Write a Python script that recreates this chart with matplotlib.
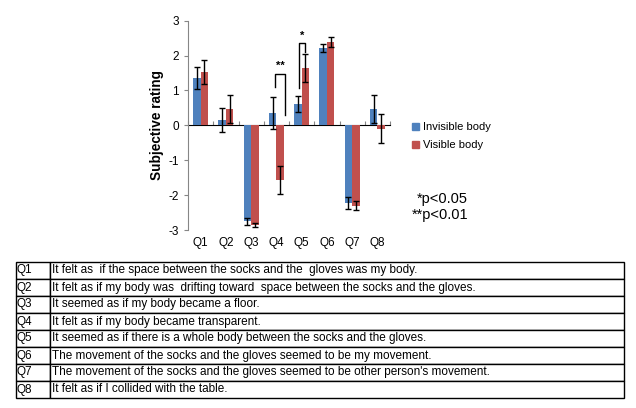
import numpy as np
import matplotlib.pyplot as plt
from matplotlib.patches import Patch

plt.rcParams['font.family'] = ['Liberation Sans', 'DejaVu Sans']
plt.rcParams['axes.unicode_minus'] = False

# data
questions = ['Q1', 'Q2', 'Q3', 'Q4', 'Q5', 'Q6', 'Q7', 'Q8']
invisible = [1.35, 0.15, -2.75, 0.35, 0.60, 2.22, -2.22, 0.48]
invisible_err = [0.32, 0.35, 0.10, 0.45, 0.23, 0.12, 0.18, 0.40]
visible = [1.53, 0.48, -2.85, -1.57, 1.65, 2.40, -2.31, -0.10]
visible_err = [0.35, 0.40, 0.05, 0.40, 0.40, 0.14, 0.13, 0.42]

# significance brackets: (question index, left x offset, right x offset, top, left bottom, right bottom, label)
brackets = [(3, -0.07, 0.36, 1.47, 1.10, 0.30, '**'),
            (4, -0.12, 0.14, 2.35, 1.06, 2.11, '*')]

statements = [
    "It felt as  if the space between the socks and the  gloves was my body.",
    "It felt as if my body was  drifting toward  space between the socks and the gloves.",
    "It seemed as if my body became a floor.",
    "It felt as if my body became transparent.",
    "It seemed as if there is a whole body between the socks and the gloves.",
    "The movement of the socks and the gloves seemed to be my movement.",
    "The movement of the socks and the gloves seemed to be other person's movement.",
    "It felt as if I collided with the table.",
]

blue = '#4F81BD'
red = '#C0504D'
grey = '#868686'

fig = plt.figure(figsize=(6.36, 4.08), dpi=100)
ax = fig.add_axes([188 / 636, 1 - 230 / 408, 202 / 636, 209.3 / 408])

x = np.arange(len(questions))
w = 0.3
ax.bar(x - w / 2, invisible, w, color=blue, yerr=invisible_err,
       error_kw=dict(ecolor='black', elinewidth=1, capsize=2.5, capthick=1))
ax.bar(x + w / 2, visible, w, color=red, yerr=visible_err,
       error_kw=dict(ecolor='black', elinewidth=1, capsize=2.5, capthick=1))

for qi, lo, ro, top, lb, rb, lab in brackets:
    ax.plot([qi + lo, qi + lo, qi + ro, qi + ro], [lb, top, top, rb],
            color='black', lw=1)
    ax.text(qi + (lo + ro) / 2, top + 0.08, lab, ha='center', va='bottom',
            fontsize=8, fontweight='bold')

ax.set_xlim(-0.5, len(questions) - 0.5)
ax.set_ylim(-3, 3)
ax.set_yticks(range(-3, 4))
ax.tick_params(axis='y', labelsize=8.5, color=grey, length=3, width=0.8)
ax.set_xticks(x)
ax.set_xticklabels(questions, fontsize=8.5)
ax.tick_params(axis='x', length=0, pad=5)
for s in ['top', 'right', 'bottom']:
    ax.spines[s].set_visible(False)
ax.spines['left'].set_color(grey)
ax.spines['left'].set_linewidth(0.8)
ax.set_ylabel('Subjective rating', fontsize=9.8, fontweight='bold', labelpad=3)

# zero axis with category-boundary ticks
zero = ax.secondary_xaxis(0.5)
zero.set_xticks(np.arange(len(questions) + 1) - 0.5)
zero.set_xticklabels([])
zero.tick_params(length=3, color=grey, width=0.8)
zero.spines['bottom'].set_color(grey)
zero.spines['bottom'].set_linewidth(0.8)

fig.legend(handles=[Patch(color=blue, label='Invisible body'),
                    Patch(color=red, label='Visible body')],
           loc='upper left', bbox_to_anchor=(402 / 636, 1 - 112 / 408),
           frameon=False, fontsize=8, handlelength=0.6, handleheight=0.6,
           handletextpad=0.4, labelspacing=0.75)

fig.text(468 / 636, 1 - 207 / 408, '*p<0.05\n**p<0.01', ha='right',
         va='center', fontsize=10.5, linespacing=1.15)

# question table
tax = fig.add_axes([16 / 636, 1 - 398 / 408, 608 / 636, 136 / 408])
tax.axis('off')
tbl = tax.table(cellText=[[q, s] for q, s in zip(questions, statements)],
                colWidths=[34 / 608, 574 / 608], cellLoc='left',
                bbox=[0, 0, 1, 1])
tbl.auto_set_font_size(False)
for (r, c), cell in tbl.get_celld().items():
    cell.set_edgecolor('black')
    cell.set_linewidth(1.0)
    cell.PAD = 0.02 if c == 0 else 0.003
    cell.get_text().set_fontsize(8.5)

fig.savefig('out.png', dpi=100)
